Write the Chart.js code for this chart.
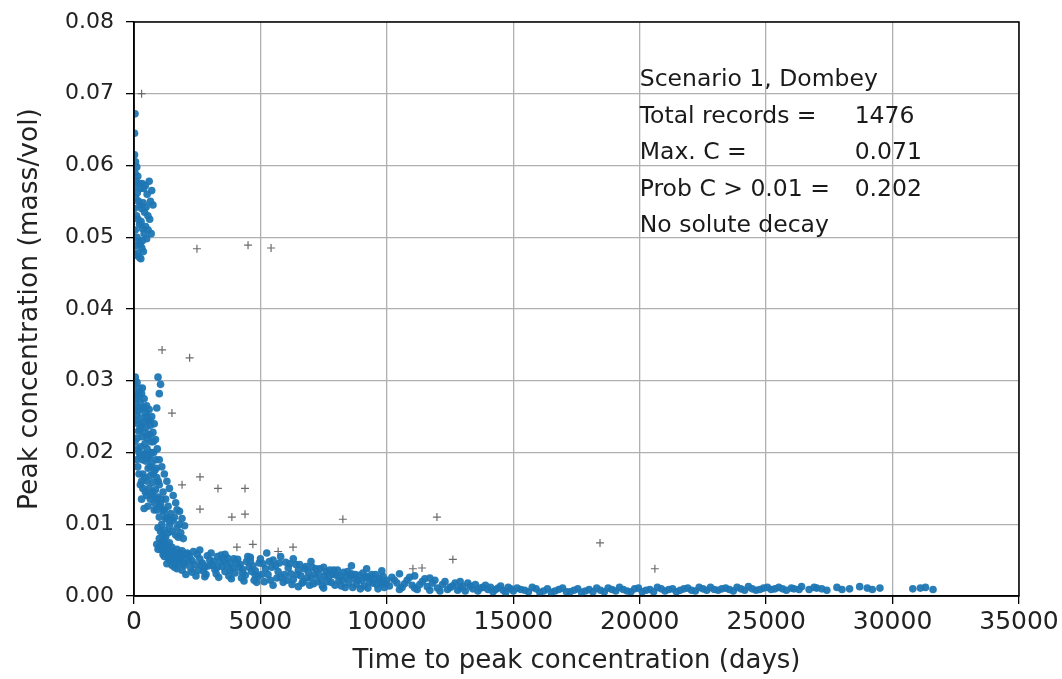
<!DOCTYPE html>
<html lang="en">
<head>
  <meta charset="UTF-8">
  <title>Peak concentration vs time to peak</title>
  <script src="https://cdn.jsdelivr.net/npm/chart.js"></script>
  <style>
    body { margin: 0; background: #fff; }
    #wrap { width: 1062px; height: 679px; }
  </style>
</head>
<body>
  <div id="wrap"><canvas id="peakChart" width="1062" height="679"></canvas></div>

  <script>
    // [days, peak conc]
    const earlyHigh = [
      [20,0.0615],[60,0.0605],[110,0.0598],[40,0.0590],[150,0.0585],[90,0.0578],[200,0.0575],[30,0.0570],
      [260,0.0568],[130,0.0562],[320,0.0575],[380,0.0568],[450,0.0572],[520,0.0560],[600,0.0578],[650,0.0550],
      [70,0.0555],[180,0.0550],[240,0.0545],[300,0.0540],[360,0.0548],[420,0.0535],[480,0.0542],[550,0.0530],
      [20,0.0540],[100,0.0530],[160,0.0525],[220,0.0518],[280,0.0522],[340,0.0512],[400,0.0505],[460,0.0515],
      [50,0.0510],[120,0.0500],[190,0.0495],[250,0.0490],[310,0.0485],[370,0.0480],[80,0.0488],[140,0.0478],
      [210,0.0472],[270,0.0470],[30,0.0475],[330,0.0495],[500,0.0498],[560,0.0510],[20,0.0645],[40,0.0672],
      [700,0.0565],[750,0.0545],[620,0.0525],[680,0.0505]
    ];
    const earlyMid = [
      [50,0.0305],[120,0.0298],[200,0.0290],[80,0.0285],[300,0.0282],[160,0.0278],[400,0.0275],[250,0.0270],
      [60,0.0268],[500,0.0265],[350,0.0262],[180,0.0258],[600,0.0260],[450,0.0255],[100,0.0252],[280,0.0248],
      [700,0.0250],[550,0.0245],[380,0.0242],[150,0.0240],[650,0.0238],[480,0.0235],[230,0.0232],[800,0.0240],
      [900,0.0262],[1000,0.0282],[1050,0.0295],[950,0.0305],[750,0.0228],[580,0.0225],[330,0.0222],[120,0.0220],
      [680,0.0215],[430,0.0212],[850,0.0218],[260,0.0208],[520,0.0205],[780,0.0200],[380,0.0198],[620,0.0195],
      [920,0.0205],[460,0.0188],[700,0.0185],[1000,0.0190],[560,0.0178],[820,0.0175],[1100,0.0180],[650,0.0168],
      [900,0.0165],[1200,0.0170],[740,0.0158],[1000,0.0155],[1300,0.0160],[600,0.0150],[850,0.0148],[1150,0.0145],
      [1400,0.0150],[700,0.0140],[950,0.0138],[1250,0.0135],[1550,0.0140],[800,0.0130],[1050,0.0128],[1350,0.0125],
      [1650,0.0130],[900,0.0120],[1150,0.0118],[1450,0.0115],[1800,0.0118],[1000,0.0110],[1250,0.0108],[1550,0.0105],
      [1900,0.0108],[1100,0.0100],[1400,0.0098],[1700,0.0095],[2000,0.0098],[1200,0.0092],[1500,0.0090],[1850,0.0088],
      [150,0.0180],[250,0.0155],[300,0.0135],[400,0.0122],[200,0.0200],[350,0.0170],[500,0.0140]
    ];
    const earlyFill = [
      [30,0.0295],[90,0.0275],[140,0.0262],[210,0.0282],[330,0.0290],[420,0.0262],[520,0.0250],[620,0.0245],
      [60,0.0245],[180,0.0230],[300,0.0238],[400,0.0228],[520,0.0220],[640,0.0225],[760,0.0215],[40,0.0215],
      [140,0.0205],[240,0.0195],[330,0.0190],[450,0.0198],[560,0.0192],[680,0.0200],[860,0.0190],[100,0.0190],
      [200,0.0170],[300,0.0160],[420,0.0165],[520,0.0160],[640,0.0180],[760,0.0170],[880,0.0178],[960,0.0160],
      [350,0.0150],[450,0.0145],[550,0.0125],[650,0.0135],[750,0.0145],[800,0.0120],[900,0.0135],[1000,0.0125],
      [1100,0.0135],[1200,0.0120],[1300,0.0110],[1400,0.0105],[1600,0.0110],[1700,0.0120],[1800,0.0100],[950,0.0095],
      [1050,0.0090],[1150,0.0085],[1250,0.0082],[1350,0.0088],[1650,0.0085],[1750,0.0082],[1950,0.0080]
    ];
    const mainBand = [
      [900,0.0072],[1000,0.0068],[1100,0.0064],[1200,0.0066],[1300,0.0060],[1400,0.0058],[1500,0.0062],[1600,0.0055],
      [1700,0.0057],[1800,0.0052],[1900,0.0056],[2000,0.0050],[1100,0.0075],[1300,0.0071],[1500,0.0068],[1700,0.0065],
      [1900,0.0063],[1200,0.0055],[1400,0.0050],[1600,0.0047],[1800,0.0045],[2000,0.0043],
      [2100,0.0060],[2200,0.0055],[2300,0.0049],[2400,0.0044],[2500,0.0058],[2600,0.0052],[2700,0.0046],[2800,0.0040],
      [2900,0.0056],[3000,0.0050],[3100,0.0043],[3200,0.0037],[3300,0.0055],[3400,0.0048],[3500,0.0041],[3600,0.0034],
      [3700,0.0053],[3800,0.0046],[3900,0.0039],[4000,0.0032],[4100,0.0051],[4200,0.0044],[4300,0.0037],[4400,0.0029],
      [4500,0.0055],[4600,0.0049],[4700,0.0042],[4800,0.0035],[4900,0.0027],[5000,0.0052],[2250,0.0038],[2750,0.0035],
      [3250,0.0031],[3750,0.0028],[4250,0.0025],[4750,0.0022],[2150,0.0047],[2650,0.0043],[3150,0.0048],[3650,0.0044],
      [4150,0.0040],[4650,0.0034],
      [5100,0.0045],[5200,0.0038],[5300,0.0030],[5400,0.0022],[5500,0.0050],[5600,0.0042],[5700,0.0034],[5800,0.0026],
      [5900,0.0019],[6000,0.0047],[6100,0.0039],[6200,0.0031],[6300,0.0023],[6400,0.0044],[6500,0.0036],[6600,0.0028],
      [6700,0.0020],[6800,0.0041],[6900,0.0033],[7000,0.0025],[7100,0.0017],[7200,0.0038],[7300,0.0030],[7400,0.0022],
      [7500,0.0040],[7600,0.0034],[7700,0.0027],[7800,0.0019],[7900,0.0036],[8000,0.0029],[8100,0.0021],[8200,0.0014],
      [8300,0.0033],[8400,0.0026],[8500,0.0018],[8600,0.0031],[8700,0.0024],[8800,0.0016],[8900,0.0029],[9000,0.0022],
      [9100,0.0014],[9200,0.0027],[9300,0.0020],[9400,0.0030],[9500,0.0023],[9600,0.0016],[9700,0.0025],[9800,0.0018],
      [9900,0.0012],[10000,0.0022],[5250,0.0060],[5800,0.0055],[6300,0.0052],[7000,0.0048],[8600,0.0042],[9200,0.0038],
      [9800,0.0035],[5500,0.0015],[6500,0.0013],[7500,0.0011],
      [10200,0.0026],[10400,0.0018],[10600,0.0012],[10800,0.0022],[11000,0.0015],[11200,0.0009],[11400,0.0020],[11600,0.0013],
      [11800,0.0018],[12000,0.0011],[12200,0.0016],[12400,0.0009],[12600,0.0014],[12800,0.0008],[13000,0.0013],[13200,0.0018],
      [13400,0.0010],[13600,0.0007],[13800,0.0012],[14000,0.0009],[14200,0.0006],[14400,0.0011],[14600,0.0008],[14800,0.0012],
      [15000,0.0007],[10500,0.0031],[11100,0.0028],[11700,0.0025],[12900,0.0020]
    ];
    const mainBandFill = [
      [950,0.0065],[1050,0.0072],[1150,0.0058],[1250,0.0062],[1350,0.0053],[1450,0.0064],[1550,0.0052],[1650,0.0060],
      [1750,0.0049],[1850,0.0059],[1950,0.0046],[1300,0.0045],[1600,0.0040],[1900,0.0036],[1700,0.0038],[1500,0.0043],
      [1000,0.0080],[1200,0.0078],[1400,0.0074],
      [2050,0.0030],[2125,0.0058],[2350,0.0062],[2450,0.0028],[2550,0.0036],[2850,0.0030],[2950,0.0042],[3050,0.0060],
      [3350,0.0026],[3450,0.0057],[3550,0.0050],[3850,0.0024],[3950,0.0052],[4050,0.0046],[4350,0.0021],[4450,0.0048],
      [4550,0.0040],[4850,0.0019],[4950,0.0046],[2300,0.0033],[2800,0.0027],[3300,0.0040],[3800,0.0036],[4300,0.0032],
      [4800,0.0029],[2600,0.0064],[3600,0.0058],[4600,0.0054],
      [5050,0.0030],[5150,0.0020],[5350,0.0048],[5450,0.0040],[5650,0.0025],[5750,0.0046],[5950,0.0030],[6050,0.0022],
      [6150,0.0045],[6250,0.0016],[6450,0.0030],[6550,0.0044],[6650,0.0018],[6750,0.0038],[6850,0.0025],[6950,0.0015],
      [7050,0.0040],[7150,0.0030],[7250,0.0020],[7350,0.0038],[7450,0.0014],[7550,0.0028],[7650,0.0020],[7750,0.0036],
      [7850,0.0030],[7950,0.0015],[8050,0.0036],[8150,0.0028],[8250,0.0022],[8350,0.0012],[8450,0.0034],[8550,0.0028],
      [8650,0.0012],[8750,0.0030],[8850,0.0022],[8950,0.0010],[9050,0.0032],[9150,0.0026],[9250,0.0011],[9350,0.0025],
      [9450,0.0018],[9550,0.0030],[9650,0.0010],[9750,0.0020],[9850,0.0027],[9950,0.0017],
      [10100,0.0014],[10300,0.0022],[10500,0.0009],[10700,0.0017],[10900,0.0026],[11100,0.0011],[11300,0.0016],[11500,0.0024],
      [11700,0.0008],[11900,0.0022],[12100,0.0007],[12300,0.0020],[12500,0.0012],[12700,0.0018],[12900,0.0011],[13100,0.0007],
      [13300,0.0014],[13500,0.0016],[13700,0.0011],[13900,0.0015],[14100,0.0012],[14300,0.0009],[14500,0.0014],[14700,0.0005],
      [14900,0.0010]
    ];
    const lateTail = [
      [15300,0.0009],[15600,0.0006],[15900,0.0010],[16200,0.0007],[16500,0.0005],[16800,0.0009],[17100,0.0006],[17400,0.0008],
      [17700,0.0005],[18000,0.0009],[18300,0.0011],[18600,0.0006],[18900,0.0009],[19200,0.0012],[19500,0.0007],[19800,0.0010],
      [20100,0.0006],[20400,0.0009],[20700,0.0012],[21000,0.0007],[21300,0.0010],[21600,0.0008],[21900,0.0011],[22200,0.0007],
      [22500,0.0010],[22800,0.0012],[23100,0.0008],[23400,0.0011],[23700,0.0007],[24000,0.0010],[24300,0.0013],[24600,0.0008],
      [24900,0.0011],[25200,0.0009],[25500,0.0012],[25800,0.0008],[26100,0.0010],[26400,0.0013],[26700,0.0009],[27000,0.0011],
      [27400,0.0008],[27800,0.0012],[28300,0.0010],[28700,0.0013],[29200,0.0009],[29500,0.0011],[30800,0.0010],[31300,0.0012],
      [31600,0.0009],
      [15150,0.0011],[15450,0.0008],[15750,0.0012],[16050,0.0005],[16350,0.0010],[16650,0.0007],[16950,0.0011],[17250,0.0006],
      [17550,0.0010],[17850,0.0007],[18150,0.0006],[18450,0.0008],[18750,0.0011],[19050,0.0007],[19350,0.0009],[19650,0.0006],
      [19950,0.0011],[20250,0.0008],[20550,0.0006],[20850,0.0010],[21150,0.0009],[21450,0.0006],[21750,0.0010],[22050,0.0008],
      [22350,0.0012],[22650,0.0008],[22950,0.0009],[23250,0.0010],[23550,0.0009],[23850,0.0012],[24150,0.0008],[24450,0.0010],
      [24750,0.0009],[25050,0.0012],[25350,0.0010],[25650,0.0010],[26000,0.0011],[26300,0.0009],[26900,0.0012],[27200,0.0010],
      [28000,0.0009],[29000,0.0011],[31100,0.0011]
    ];
    const scattered = [
      [2610,0.0166],[3320,0.0150],[4390,0.0150],[3870,0.0110],[4390,0.0114],[2610,0.0121],[1900,0.0155],[8260,0.0107],
      [6290,0.0068],[4070,0.0068],[11980,0.0110],[18430,0.0074],[20600,0.0038],[12610,0.0051],[11390,0.0039],[11030,0.0038],
      [2490,0.0484],[4510,0.0489],[5420,0.0485],[1110,0.0343],[2200,0.0332],[1500,0.0255],[4700,0.0072],[5700,0.0062],
      [300,0.0700]
    ];

    const xTicks = [0, 5000, 10000, 15000, 20000, 25000, 30000, 35000];
    const yTicks = [0.00, 0.01, 0.02, 0.03, 0.04, 0.05, 0.06, 0.07, 0.08];

    const noteLeft = ['Scenario 1, Dombey', 'Total records =', 'Max. C =', 'Prob C > 0.01 =', 'No solute decay'];
    const noteRight = ['', '1476', '0.071', '0.202', ''];

    const FONT = 'DejaVu Sans';
    const toPts = arr => arr.map(p => ({ x: p[0], y: p[1] }));
    const blue = 'rgba(31,119,180,0.95)';

    const boxAndNote = {
      id: 'boxAndNote',
      afterDraw(chart) {
        const { ctx, chartArea: a, scales } = chart;
        ctx.save();
        ctx.strokeStyle = '#000';
        ctx.lineWidth = 1.5;
        ctx.strokeRect(a.left, a.top, a.right - a.left, a.bottom - a.top);
        ctx.font = '23.5px ' + FONT;
        ctx.fillStyle = '#1a1a1a';
        ctx.textBaseline = 'middle';
        const x0 = scales.x.getPixelForValue(20000);
        const x1 = scales.x.getPixelForValue(28500);
        const y0 = scales.y.getPixelForValue(0.0719);
        noteLeft.forEach((t, i) => {
          const y = y0 + i * 36.5;
          ctx.fillText(t, x0, y);
          if (noteRight[i]) ctx.fillText(noteRight[i], x1, y);
        });
        ctx.restore();
      }
    };

    const ptStyle = { pointRadius: 3.8, pointHoverRadius: 3.8, pointBorderWidth: 0, backgroundColor: blue, borderColor: blue };

    new Chart(document.getElementById('peakChart'), {
      type: 'scatter',
      data: {
        datasets: [
          { label: 'early high', data: toPts(earlyHigh), ...ptStyle },
          { label: 'early mid', data: toPts(earlyMid), ...ptStyle },
          { label: 'early fill', data: toPts(earlyFill), ...ptStyle },
          { label: 'main band', data: toPts(mainBand), ...ptStyle },
          { label: 'main band fill', data: toPts(mainBandFill), ...ptStyle },
          { label: 'late tail', data: toPts(lateTail), ...ptStyle },
          { label: 'scattered', data: toPts(scattered), pointStyle: 'cross', pointRadius: 4, pointBorderWidth: 1.2,
            borderColor: 'rgba(70,70,70,0.8)', backgroundColor: 'rgba(70,70,70,0.8)' }
        ]
      },
      options: {
        responsive: false,
        animation: false,
        layout: { padding: { top: 22, right: 43, left: 0, bottom: 0 } },
        plugins: { legend: { display: false }, tooltip: { enabled: false } },
        scales: {
          x: {
            type: 'linear', min: 0, max: 35000,
            afterBuildTicks: s => { s.ticks = xTicks.map(v => ({ value: v })); },
            afterFit: s => { s.height = 83; s.paddingLeft = 0; s.paddingRight = 0; },
            ticks: { font: { family: FONT, size: 25 }, color: '#222', padding: 3, maxRotation: 0, callback: v => String(v) },
            grid: { color: '#b0b0b0', lineWidth: 1.3, tickLength: 8, tickColor: '#000' },
            border: { color: '#000', width: 1.5 },
            title: { display: true, text: 'Time to peak concentration (days)', font: { family: FONT, size: 26 }, color: '#222', padding: { top: 0, bottom: 2 } }
          },
          y: {
            min: 0, max: 0.08,
            afterBuildTicks: s => { s.ticks = yTicks.map(v => ({ value: v })); },
            afterFit: s => { s.width = 134; s.paddingTop = 0; s.paddingBottom = 0; },
            ticks: { font: { family: FONT, size: 22 }, color: '#222', padding: 12, callback: v => v.toFixed(2) },
            grid: { color: '#b0b0b0', lineWidth: 1.3, tickLength: 8, tickColor: '#000' },
            border: { color: '#000', width: 1.5 },
            title: { display: true, text: 'Peak concentration (mass/vol)', font: { family: FONT, size: 26.5 }, color: '#222', padding: { top: 14, bottom: 0 } }
          }
        }
      },
      plugins: [boxAndNote]
    });
  </script>
</body>
</html>
